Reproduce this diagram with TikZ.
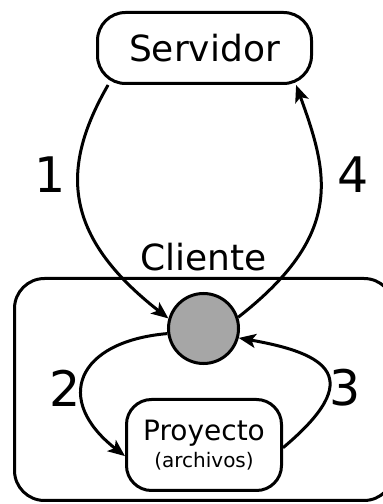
\documentclass[tikz,border=0pt]{standalone}
\usepackage{fontspec}
\setmainfont{DejaVu Sans}
\usetikzlibrary{
    shapes,
    arrows.meta,
}
\newcommand{\boxline}{3pt}
\newcommand{\srvfont}{\fontsize{36}{42}\selectfont}
\newcommand{\stepfont}{\fontsize{49}{58}\selectfont}
\newcommand{\projfont}{\fontsize{28}{30}\selectfont}
\newcommand{\filesfont}{\fontsize{20}{22}\selectfont}
\definecolor{localgray}{HTML}{A6A6A6}
\tikzstyle{flowarrow} = [-{Stealth[length=17pt,width=14pt,inset=4pt]}, line width=\boxline]
\tikzstyle{roundbox} = [
  draw,
  shape=rectangle,
  color=black,
  line width=\boxline,
  rounded corners=28pt,
  inner sep=0pt,
]
\tikzstyle{localrepo} = [
  draw,
  shape=circle,
  fill=localgray,
  line width=\boxline,
  minimum size=70pt,
  inner sep=0pt,
]
\tikzstyle{steplabel} = [font=\stepfont, inner sep=0pt]

\begin{document}
\begin{tikzpicture}[x=1pt, y=1pt]
    \useasboundingbox (0,0) rectangle (383,504);
    \node[roundbox, rounded corners=30pt, minimum width=379.5pt, minimum height=222pt] (client) at (204.25,114.5) {};
    \node[font=\srvfont, inner sep=0pt] (clientlabel) at (203.5,246.5) {Cliente};
    \node[roundbox, font=\srvfont, minimum width=214pt, minimum height=71pt] (server) at (204.5,456) {Servidor};
    \node[localrepo] (local) at (203.5,175.5) {};
    \node[roundbox, rounded corners=25pt, align=center, minimum width=155pt, minimum height=91pt] (project) at (204,59)
      {{\projfont Proyecto}\\[5pt]{\filesfont (archivos)}};
    % arrows between server, local copy and project files
    \draw[flowarrow] (server.201) to[out=240, in=142, out distance=95pt, in distance=135pt] (local.164);
    \draw[flowarrow] (local.18) to[out=38, in=290, out distance=135pt, in distance=95pt] (server.338);
    \draw[flowarrow] (local.188) to[out=185, in=142, looseness=1.8] (project.188);
    \draw[flowarrow] (project.358) to[out=40, in=350, out distance=110pt, in distance=90pt] (local.345);
    \node[steplabel] (step1) at (50,329) {1};
    \node[steplabel] (step4) at (353.5,329) {4};
    \node[steplabel] (step2) at (65,116) {2};
    \node[steplabel] (step3) at (345.5,116) {3};
\end{tikzpicture}
\end{document}
